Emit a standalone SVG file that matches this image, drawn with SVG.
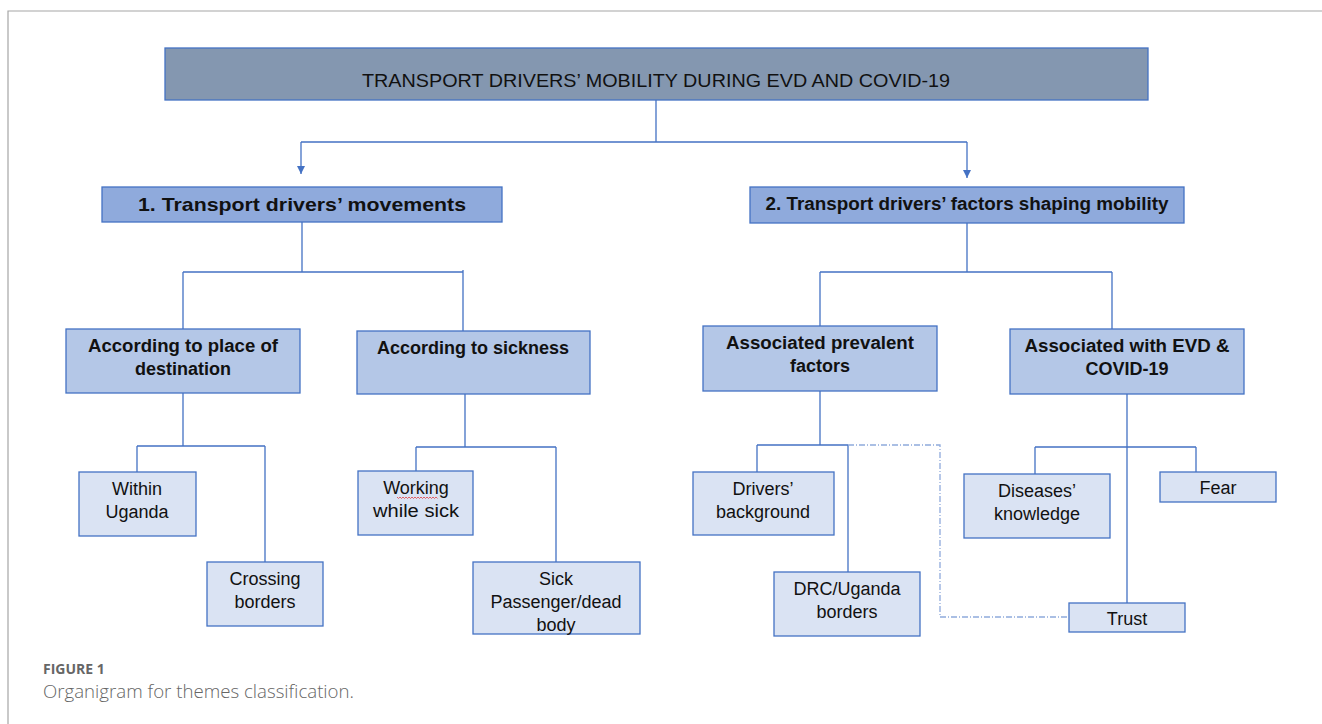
<svg xmlns="http://www.w3.org/2000/svg" width="1322" height="724" viewBox="0 0 1322 724">
<style>
.box{stroke:#4472c4;stroke-width:1.3}
.t0{fill:#8497b0}
.t1{fill:#8faadc}
.t2{fill:#b4c7e7}
.t3{fill:#dae3f3}
text{font-family:"Liberation Sans",Arial,sans-serif;fill:#111;text-anchor:middle}
.b{font-weight:bold;font-size:18px}
.r{font-size:18px}
.c{stroke:#4472c4;stroke-width:1.3;fill:none}
.d{stroke:#8faadc;stroke-width:1.3;fill:none;stroke-dasharray:6 2 1 2}
.cap{text-anchor:start;fill:#666}
</style>
<defs>
<marker id="ah" markerWidth="8" markerHeight="8" refX="8" refY="4" orient="auto" markerUnits="userSpaceOnUse" viewBox="0 0 8 8">
<path d="M0,0 L8,4 L0,8 Z" fill="#4472c4"/>
</marker>
</defs>
<rect x="0" y="0" width="1322" height="724" fill="#fff"/>
<path d="M8,724 V11 H1322" fill="none" stroke="#a6a6a6" stroke-width="1.2"/>

<g id="connectors">
<path class="c" d="M656,100 V142 M301,142 H967"/>
<path class="c" d="M301,142 V174" marker-end="url(#ah)"/>
<path class="c" d="M967,142 V178" marker-end="url(#ah)"/>
<path class="c" d="M302,222 V272 M183,272 H463 M183,272 V329 M463,270 V331"/>
<path class="c" d="M183,393 V446 M137,446 H265 M137,446 V472 M265,446 V562"/>
<path class="c" d="M465,394 V447 M416,447 H556 M416,447 V471 M556,447 V562"/>
<path class="c" d="M967,223 V272 M820,272 H1112 M820,272 V326 M1112,272 V329"/>
<path class="c" d="M820,391 V445 M757,445 H848 M757,445 V472 M848,445 V572"/>
<path class="d" d="M848,445 H940 V617 H1069"/>
<path class="c" d="M1127,394 V603 M1035,447 H1196 M1035,447 V474 M1196,447 V472"/>
</g>

<g id="n-root">
<rect class="box t0" x="165" y="48" width="983" height="52"/>
<text x="656" y="87" font-size="19" textLength="588" lengthAdjust="spacingAndGlyphs">TRANSPORT DRIVERS’ MOBILITY DURING EVD AND COVID-19</text>
</g>

<g id="n-movements">
<rect class="box t1" x="102" y="187" width="400" height="35"/>
<text class="b" x="302" y="211" textLength="328" lengthAdjust="spacingAndGlyphs" style="font-size:19px">1. Transport drivers’ movements</text>
</g>

<g id="n-factors">
<rect class="box t1" x="750" y="187" width="434" height="36"/>
<text class="b" x="967" y="210" textLength="403" lengthAdjust="spacingAndGlyphs">2. Transport drivers’ factors shaping mobility</text>
</g>

<g id="n-destination">
<rect class="box t2" x="66" y="329" width="234" height="64"/>
<text class="b" x="183" y="352" textLength="190" lengthAdjust="spacingAndGlyphs">According to place of</text>
<text class="b" x="183" y="375">destination</text>
</g>

<g id="n-sickness">
<rect class="box t2" x="357" y="331" width="233" height="63"/>
<text class="b" x="473" y="354" textLength="192" lengthAdjust="spacingAndGlyphs">According to sickness</text>
</g>

<g id="n-prevalent">
<rect class="box t2" x="703" y="326" width="234" height="65"/>
<text class="b" x="820" y="349" textLength="188" lengthAdjust="spacingAndGlyphs">Associated prevalent</text>
<text class="b" x="820" y="372">factors</text>
</g>

<g id="n-evd">
<rect class="box t2" x="1010" y="329" width="234" height="65"/>
<text class="b" x="1127" y="352" textLength="205" lengthAdjust="spacingAndGlyphs">Associated with EVD &amp;</text>
<text class="b" x="1127" y="375">COVID-19</text>
</g>

<g id="n-within">
<rect class="box t3" x="79" y="472" width="117" height="64"/>
<text class="r" x="137" y="495">Within</text>
<text class="r" x="137" y="518">Uganda</text>
</g>

<g id="n-crossing">
<rect class="box t3" x="207" y="562" width="116" height="64"/>
<text class="r" x="265" y="585">Crossing</text>
<text class="r" x="265" y="608">borders</text>
</g>

<g id="n-working">
<rect class="box t3" x="358" y="471" width="115" height="64"/>
<text class="r" x="416" y="494">Working</text>
<text class="r" x="416" y="517" textLength="86" lengthAdjust="spacingAndGlyphs">while sick</text>
<path d="M397,497 l1.5,1.5 l1.5,-1.5 l1.5,1.5 l1.5,-1.5 l1.5,1.5 l1.5,-1.5 l1.5,1.5 l1.5,-1.5 l1.5,1.5 l1.5,-1.5 l1.5,1.5 l1.5,-1.5 l1.5,1.5 l1.5,-1.5 l1.5,1.5 l1.5,-1.5 l1.5,1.5 l1.5,-1.5 l1.5,1.5 l1.5,-1.5 l1.5,1.5 l1.5,-1.5 l1.5,1.5 l1.5,-1.5 l1.5,1.5 l1.5,-1.5 l1.5,1.5" fill="none" stroke="#e04040" stroke-width="0.8"/>
</g>

<g id="n-sickpass">
<rect class="box t3" x="473" y="562" width="167" height="72"/>
<text class="r" x="556" y="585">Sick</text>
<text class="r" x="556" y="608">Passenger/dead</text>
<text class="r" x="556" y="631">body</text>
</g>

<g id="n-background">
<rect class="box t3" x="693" y="472" width="141" height="63"/>
<text class="r" x="763" y="495">Drivers’</text>
<text class="r" x="763" y="518">background</text>
</g>

<g id="n-drc">
<rect class="box t3" x="774" y="572" width="146" height="64"/>
<text class="r" x="847" y="595">DRC/Uganda</text>
<text class="r" x="847" y="618">borders</text>
</g>

<g id="n-knowledge">
<rect class="box t3" x="964" y="474" width="146" height="64"/>
<text class="r" x="1037" y="497">Diseases’</text>
<text class="r" x="1037" y="520">knowledge</text>
</g>

<g id="n-fear">
<rect class="box t3" x="1160" y="472" width="116" height="30"/>
<text class="r" x="1218" y="494">Fear</text>
</g>

<g id="n-trust">
<rect class="box t3" x="1069" y="603" width="116" height="29"/>
<text class="r" x="1127" y="625">Trust</text>
</g>

<g id="caption">
<text class="cap" x="43" y="674" font-size="14" font-weight="bold" style="font-family:'Open Sans','Liberation Sans',sans-serif">FIGURE 1</text>
<text class="cap" x="43" y="698" font-size="18" textLength="311" lengthAdjust="spacingAndGlyphs" style="font-family:'Open Sans','Liberation Sans',sans-serif;font-weight:300">Organigram for themes classification.</text>
</g>
</svg>
